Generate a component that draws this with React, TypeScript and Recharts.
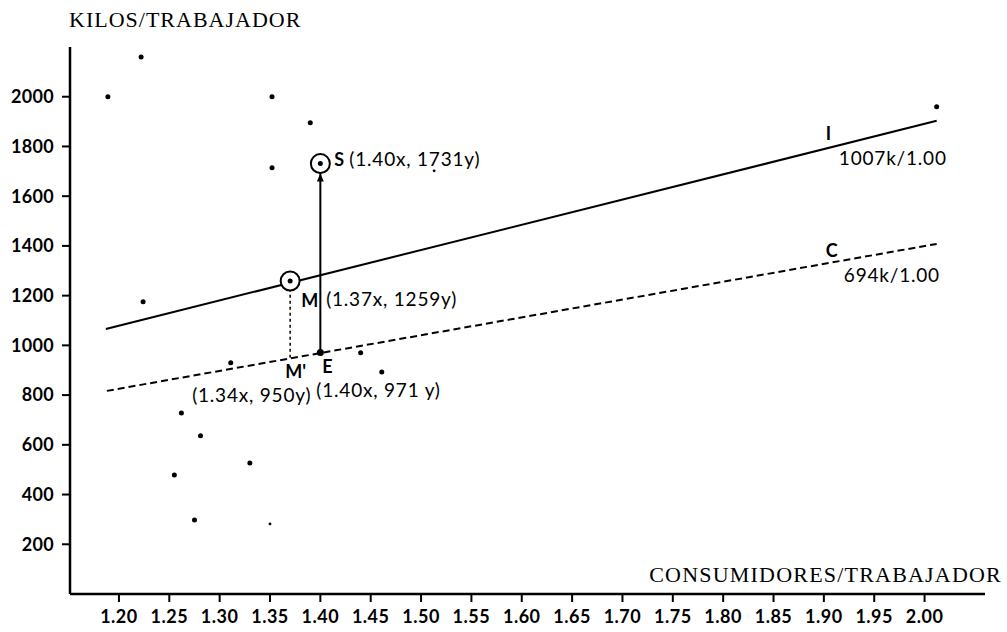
import React from "react";
import { ComposedChart, XAxis, YAxis, Line, Scatter } from "recharts";

const xTicks = [1.2, 1.25, 1.3, 1.35, 1.4, 1.45, 1.5, 1.55, 1.6, 1.65, 1.7, 1.75, 1.8, 1.85, 1.9, 1.95, 2.0];
const yTicks = [200, 400, 600, 800, 1000, 1200, 1400, 1600, 1800, 2000];

// unidades domésticas
const households = [
  { x: 1.189, y: 2000 },
  { x: 1.222, y: 2160 },
  { x: 1.224, y: 1175 },
  { x: 1.352, y: 2000 },
  { x: 1.352, y: 1714 },
  { x: 1.39, y: 1895 },
  { x: 1.311, y: 930 },
  { x: 1.44, y: 970 },
  { x: 1.461, y: 893 },
  { x: 1.262, y: 728 },
  { x: 1.281, y: 636 },
  { x: 1.33, y: 527 },
  { x: 1.255, y: 479 },
  { x: 1.275, y: 298 },
  { x: 2.012, y: 1960 },
];
const faintHouseholds = [
  { x: 1.513, y: 1702 },
  { x: 1.35, y: 282 },
];

const lineI = [
  { x: 1.187, y: 1066 },
  { x: 2.012, y: 1903 },
];
const lineC = [
  { x: 1.188, y: 817 },
  { x: 2.012, y: 1408 },
];
const arrowES = [
  { x: 1.4, y: 971 },
  { x: 1.4, y: 1731 },
];
const dropMM = [
  { x: 1.37, y: 950 },
  { x: 1.37, y: 1259 },
];
const pointS = [{ x: 1.4, y: 1731 }];
const pointM = [{ x: 1.37, y: 1259 }];
const pointE = [{ x: 1.4, y: 971 }];

const annotations = [
  { key: "S", x: 1.4, y: 1731, letter: "S", text: "(1.40x, 1731y)" },
  { key: "M", x: 1.37, y: 1259, letter: "M", text: "(1.37x, 1259y)" },
  { key: "Mp", x: 1.37, y: 950, letter: "M'", text: "(1.34x, 950y)" },
  { key: "E", x: 1.4, y: 971, letter: "E", text: "(1.40x, 971 y)" },
  { key: "I", x: 1.9, y: 1790, letter: "I", text: "1007k/1.00" },
  { key: "C", x: 1.9, y: 1325, letter: "C", text: "694k/1.00" },
];

// desplazamientos en píxeles de cada rótulo
const labelOffsets: Record<string, { lx: number; ly: number; tx: number; ty: number }> = {
  S: { lx: 14, ly: 2, tx: 29, ty: 2 },
  M: { lx: 11, ly: 26, tx: 36, ty: 25 },
  Mp: { lx: -5, ly: 20, tx: -98, ty: 44 },
  E: { lx: 2, ly: 20, tx: -4, ty: 44 },
  I: { lx: 2, ly: -9, tx: 15, ty: 16 },
  C: { lx: 2, ly: -8, tx: 20, ty: 17 },
};

const FONT = "Lato, 'DejaVu Sans', sans-serif";
const SERIF = "'Liberation Serif', 'DejaVu Serif', serif";

const Dot = (r: number) => (props: any) => {
  const { cx, cy } = props;
  return <circle cx={cx} cy={cy} r={r} fill="#000" />;
};

const RingS = (props: any) => {
  const { cx, cy } = props;
  return (
    <g>
      <circle cx={cx} cy={cy} r={9.5} fill="#fff" stroke="#000" strokeWidth={2} />
      <circle cx={cx} cy={cy} r={2.5} fill="#000" />
      <path d={`M ${cx} ${cy + 10} L ${cx - 3.5} ${cy + 18} L ${cx + 3.5} ${cy + 18} Z`} fill="#000" />
    </g>
  );
};

const RingM = (props: any) => {
  const { cx, cy } = props;
  return (
    <g>
      <circle cx={cx} cy={cy} r={9.5} fill="#fff" stroke="#000" strokeWidth={2} />
      <circle cx={cx} cy={cy} r={2.5} fill="#000" />
    </g>
  );
};

const AnnotationShape = (props: any) => {
  const { cx, cy, payload } = props;
  const o = labelOffsets[payload.key];
  return (
    <g fontFamily={FONT} fill="#000">
      <text x={cx + o.lx} y={cy + o.ly} fontSize={18} fontWeight={700}>
        {payload.letter}
      </text>
      <text x={cx + o.tx} y={cy + o.ty} fontSize={19} letterSpacing={0.8}>
        {payload.text}
      </text>
    </g>
  );
};

export default function App() {
  return (
    <div style={{ position: "absolute", left: 0, top: 0, width: 1007, height: 632, background: "#fff" }}>
      <ComposedChart width={1007} height={632} margin={{ top: 47, right: 22, left: 0, bottom: 0 }}>
        <XAxis
          type="number"
          dataKey="x"
          domain={[1.1514, 2.06]}
          ticks={xTicks}
          interval={0}
          tickFormatter={(v: number) => v.toFixed(2)}
          height={38}
          tickSize={8}
          tickMargin={8}
          axisLine={{ stroke: "#000", strokeWidth: 2.5 }}
          tickLine={{ stroke: "#000", strokeWidth: 2 }}
          tick={{ fill: "#000", fontSize: 18, fontWeight: 700, fontFamily: FONT, letterSpacing: 0.5 }}
        />
        <YAxis
          type="number"
          dataKey="y"
          domain={[0, 2200]}
          ticks={yTicks}
          interval={0}
          width={70}
          tickSize={8}
          tickMargin={8}
          axisLine={{ stroke: "#000", strokeWidth: 2.5 }}
          tickLine={{ stroke: "#000", strokeWidth: 2 }}
          tick={{ fill: "#000", fontSize: 18, fontWeight: 700, fontFamily: FONT, letterSpacing: 0.3 }}
        />
        <Line data={lineI} dataKey="y" type="linear" stroke="#000" strokeWidth={2} dot={false} isAnimationActive={false} />
        <Line
          data={lineC}
          dataKey="y"
          type="linear"
          stroke="#000"
          strokeWidth={2}
          strokeDasharray="7 4"
          dot={false}
          isAnimationActive={false}
        />
        <Line
          data={dropMM}
          dataKey="y"
          type="linear"
          stroke="#000"
          strokeWidth={1.5}
          strokeDasharray="3 3"
          dot={false}
          isAnimationActive={false}
        />
        <Line data={arrowES} dataKey="y" type="linear" stroke="#000" strokeWidth={2} dot={false} isAnimationActive={false} />
        <Scatter data={households} shape={Dot(2.5)} isAnimationActive={false} />
        <Scatter data={faintHouseholds} shape={Dot(1.4)} isAnimationActive={false} />
        <Scatter data={pointE} shape={Dot(3.5)} isAnimationActive={false} />
        <Scatter data={pointS} shape={RingS} isAnimationActive={false} />
        <Scatter data={pointM} shape={RingM} isAnimationActive={false} />
        <Scatter data={annotations} shape={AnnotationShape} isAnimationActive={false} />
      </ComposedChart>
      <svg
        width={1007}
        height={632}
        style={{ position: "absolute", left: 0, top: 0, pointerEvents: "none" }}
      >
        <text x={69} y={27} fontFamily={SERIF} fontSize={22} letterSpacing={1}>
          KILOS/TRABAJADOR
        </text>
        <text x={1002} y={582} textAnchor="end" fontFamily={SERIF} fontSize={22} letterSpacing={1.2}>
          CONSUMIDORES/TRABAJADOR
        </text>
      </svg>
    </div>
  );
}
